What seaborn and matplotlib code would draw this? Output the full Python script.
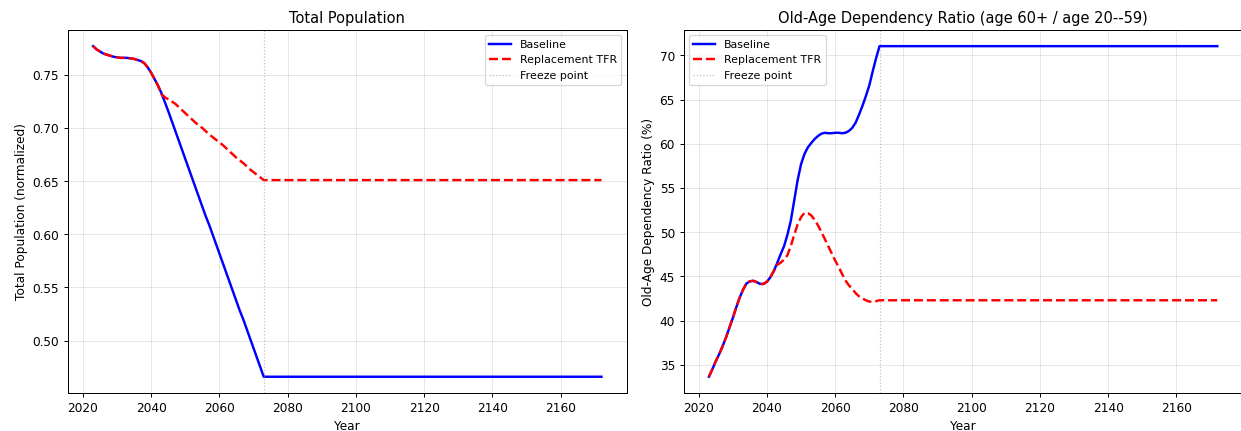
import matplotlib
matplotlib.use("Agg")
import matplotlib.pyplot as plt
import seaborn as sns
import pandas as pd

# ---- data ----
# yearly values 2023..2073 (freeze year), then the frozen value at 2172
years = list(range(2023, 2074)) + [2172]

pop_baseline = [
    0.777, 0.774, 0.772, 0.770, 0.769, 0.768, 0.767, 0.7665, 0.766, 0.766,   # 2023-2032
    0.766, 0.7655, 0.765, 0.764, 0.763, 0.761, 0.757, 0.752, 0.746, 0.740,   # 2033-2042
    0.733, 0.7245, 0.716, 0.707, 0.698, 0.689, 0.680, 0.671, 0.662, 0.653,   # 2043-2052
    0.644, 0.635, 0.626, 0.617, 0.609, 0.600, 0.591, 0.582, 0.573, 0.564,    # 2053-2062
    0.555, 0.546, 0.537, 0.528, 0.520, 0.511, 0.502, 0.493, 0.484, 0.475,    # 2063-2072
    0.466, 0.466]                                                            # 2073, 2172
pop_replacement = [
    0.777, 0.774, 0.772, 0.770, 0.769, 0.768, 0.767, 0.7665, 0.766, 0.766,
    0.766, 0.7655, 0.765, 0.764, 0.763, 0.761, 0.757, 0.752, 0.746, 0.740,
    0.732, 0.729, 0.727, 0.725, 0.723, 0.720, 0.717, 0.714, 0.711, 0.708,
    0.705, 0.7025, 0.700, 0.697, 0.694, 0.6915, 0.689, 0.6865, 0.684, 0.681,
    0.678, 0.675, 0.672, 0.6695, 0.667, 0.664, 0.661, 0.6585, 0.656, 0.6535,
    0.651, 0.651]

oadr_baseline = [
    33.65, 34.5, 35.4, 36.2, 37.1, 38.1, 39.2, 40.3, 41.5, 42.6,
    43.5, 44.2, 44.45, 44.5, 44.35, 44.15, 44.15, 44.4, 44.9, 45.6,
    46.5, 47.5, 48.4, 49.7, 51.3, 53.6, 55.9, 57.7, 58.85, 59.6,
    60.1, 60.55, 60.9, 61.15, 61.25, 61.2, 61.2, 61.25, 61.25, 61.2,
    61.25, 61.45, 61.8, 62.4, 63.3, 64.3, 65.4, 66.6, 68.2, 69.7,
    71.05, 71.05]
oadr_replacement = [
    33.65, 34.5, 35.4, 36.2, 37.1, 38.1, 39.2, 40.3, 41.5, 42.6,
    43.5, 44.2, 44.45, 44.5, 44.35, 44.15, 44.15, 44.4, 44.9, 45.6,
    46.3, 46.55, 46.9, 47.4, 48.45, 49.7, 50.9, 51.7, 52.2, 52.15,
    51.9, 51.4, 50.75, 50.0, 49.2, 48.4, 47.6, 46.8, 46.1, 45.3,
    44.55, 44.0, 43.6, 43.1, 42.75, 42.5, 42.3, 42.15, 42.15, 42.2,
    42.3, 42.3]

freeze_year = 2073
series_labels = ["Baseline", "Replacement TFR", "Freeze point"]

# ---- figure ----
DPI = 87.7
fig = plt.figure(figsize=(1241.4 / DPI, 431.4 / DPI), dpi=DPI)
W, H = 1241.0, 431.0
ax1 = fig.add_axes([67.7 / W, (H - 393.3) / H, 559.0 / W, 363.3 / H])
ax2 = fig.add_axes([683.3 / W, (H - 393.3) / H, 559.0 / W, 363.3 / H])

df_pop = pd.DataFrame({"Year": years, "base": pop_baseline, "repl": pop_replacement})
df_oadr = pd.DataFrame({"Year": years, "base": oadr_baseline, "repl": oadr_replacement})

for ax, df in [(ax1, df_pop), (ax2, df_oadr)]:
    sns.lineplot(data=df, x="Year", y="base", ax=ax, color="blue", linewidth=2,
                 label=series_labels[0])
    sns.lineplot(data=df, x="Year", y="repl", ax=ax, color="red", linewidth=2,
                 linestyle="--", label=series_labels[1])
    ax.axvline(freeze_year, color="gray", linestyle=":", linewidth=1, alpha=0.5,
               label=series_labels[2])
    ax.grid(True, alpha=0.3)
    ax.set_xlabel("Year", fontsize=10)
    ax.tick_params(labelsize=10)

ax1.set_title("Total Population", fontsize=12)
ax1.set_ylabel("Total Population (normalized)", fontsize=10)
ax1.legend(loc="upper right", fontsize=9)

ax2.set_title("Old-Age Dependency Ratio (age 60+ / age 20--59)", fontsize=12)
ax2.set_ylabel("Old-Age Dependency Ratio (%)", fontsize=10)
ax2.legend(loc="upper left", fontsize=9)

fig.savefig("out.png", dpi=DPI)
